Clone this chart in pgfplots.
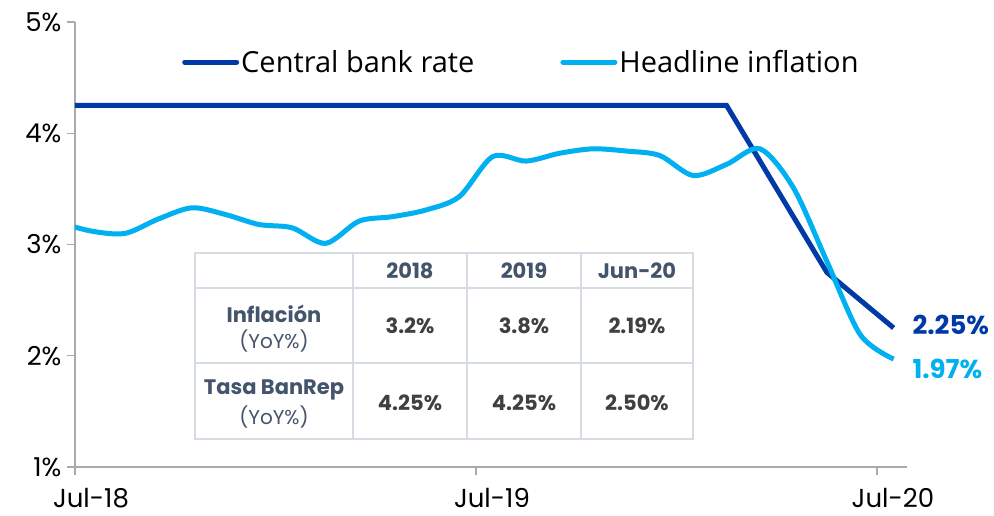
\documentclass[border=0pt]{standalone}
\usepackage{pgfplots}
\pgfplotsset{compat=1.18}
\usepackage{fontspec}
\setmainfont{Poppins}
\newfontfamily\legfont{Open Sans}
\usetikzlibrary{calc}

\definecolor{cbr}{RGB}{0,58,166}
\definecolor{infl}{RGB}{0,176,240}
\definecolor{axisgray}{RGB}{170,170,170}
\definecolor{tblline}{RGB}{214,220,228}
\definecolor{slate}{RGB}{68,84,106}
\definecolor{valgray}{RGB}{64,64,64}

\begin{document}
\begin{tikzpicture}
\begin{axis}[
    scale only axis,
    width=832pt, height=445pt,
    xmin=0, xmax=24.9,
    ymin=1, ymax=5,
    axis lines=left,
    axis line style={-, draw=axisgray, line width=1.3pt},
    tick align=outside,
    major tick length=8pt,
    tick style={draw=axisgray, line width=1.2pt},
    xtick={0,12,24},
    xticklabels={Jul-18,Jul-19,Jul-20},
    ytick={1,2,3,4,5},
    yticklabels={1\%,2\%,3\%,4\%,5\%},
    ticklabel style={font=\fontsize{26}{30}\selectfont, text=black},
    xticklabel style={xshift=16pt, yshift=-10pt},
    yticklabel style={xshift=-2pt},
    legend columns=2,
    legend style={at={(0.1286,0.910)}, anchor=west, draw=none, fill=none,
        font=\legfont\fontsize{29}{33}\selectfont, inner sep=0pt,
        /tikz/every even column/.append style={column sep=84pt}},
    legend image code/.code={\draw[#1, line cap=round] (0pt,0pt) -- (52pt,0pt);},
]
\coordinate (O) at (rel axis cs:0,0);

% tasa de interés del banco central (fin de mes)
\addplot[cbr, line width=5pt] coordinates {
    (-0.5,4.25) (0.5,4.25) (1.5,4.25) (2.5,4.25) (3.5,4.25) (4.5,4.25)
    (5.5,4.25) (6.5,4.25) (7.5,4.25) (8.5,4.25) (9.5,4.25) (10.5,4.25)
    (11.5,4.25) (12.5,4.25) (13.5,4.25) (14.5,4.25) (15.5,4.25) (16.5,4.25)
    (17.5,4.25) (18.5,4.25) (19.5,4.25) (20.5,3.75) (21.5,3.25) (22.5,2.75)
    (23.5,2.50) (24.5,2.25)
};
\addlegendentry{Central bank rate}

% inflación total anual
\addplot[infl, line width=5pt, smooth] coordinates {
    (-0.5,3.20) (0.5,3.12) (1.5,3.10) (2.5,3.23) (3.5,3.33) (4.5,3.27)
    (5.5,3.18) (6.5,3.15) (7.5,3.01) (8.5,3.21) (9.5,3.25) (10.5,3.31)
    (11.5,3.43) (12.5,3.79) (13.5,3.75) (14.5,3.82) (15.5,3.86) (16.5,3.84)
    (17.5,3.80) (18.5,3.62) (19.5,3.72) (20.5,3.86) (21.5,3.51) (22.5,2.85)
    (23.5,2.19) (24.5,1.97)
};
\addlegendentry{Headline inflation}
\end{axis}

% coordenadas en píxeles de la imagen (origen arriba a la izquierda)
\begin{scope}[shift={($(O)+(-75pt,467pt)$)}, x=1pt, y=-1pt]
\pgfresetboundingbox
\path[use as bounding box] (0,0) rectangle (994,515);

% etiquetas finales
\node[anchor=west, text=cbr, font=\bfseries\fontsize{26}{30}\selectfont] at (909,325) {2.25\%};
\node[anchor=west, text=infl, font=\bfseries\fontsize{26}{30}\selectfont] at (909,369) {1.97\%};

% tabla
\fill[white] (195,253) rectangle (693,439);
\draw[tblline, line width=2pt] (195,253) rectangle (693,439);
\foreach \xx in {353,467,581} \draw[tblline, line width=2pt] (\xx,253) -- (\xx,439);
\foreach \yy in {288,363} \draw[tblline, line width=2pt] (195,\yy) -- (693,\yy);

\begin{scope}[every node/.style={font=\bfseries\fontsize{21}{24}\selectfont, text=slate}]
\node at (410,271) {2018};
\node at (524,271) {2019};
\node at (637,271) {Jun-20};
\node at (274,314) {Inflación};
\node at (274,390) {Tasa BanRep};
\end{scope}
\begin{scope}[every node/.style={font=\fontsize{20}{24}\selectfont, text=slate}]
\node at (274,341) {(YoY\%)};
\node at (274,417) {(YoY\%)};
\end{scope}
\begin{scope}[every node/.style={font=\bfseries\fontsize{21}{24}\selectfont, text=valgray}]
\node at (410,326) {3.2\%};
\node at (524,326) {3.8\%};
\node at (637,326) {2.19\%};
\node at (410,403) {4.25\%};
\node at (524,403) {4.25\%};
\node at (637,403) {2.50\%};
\end{scope}
\end{scope}
\end{tikzpicture}
\end{document}
